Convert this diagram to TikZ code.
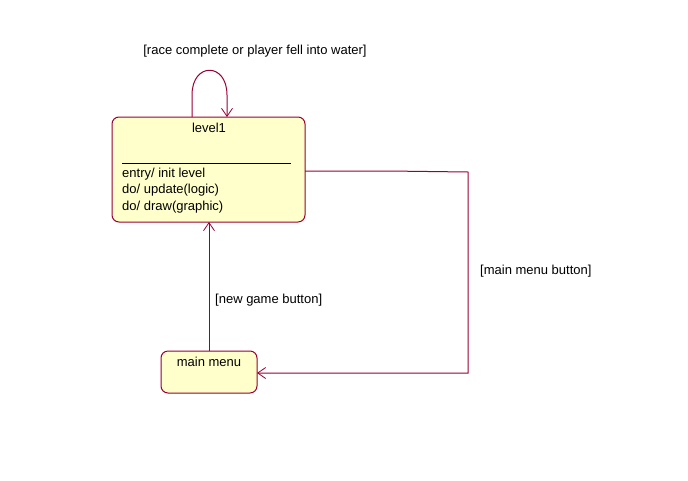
\documentclass[tikz,border=0pt]{standalone}
\usepackage{fontspec}
\setmainfont{Liberation Sans}
\usetikzlibrary{arrows.meta}
\definecolor{edgered}{HTML}{990033}
\definecolor{statefill}{HTML}{FFFFCC}
\begin{document}
\begin{tikzpicture}[x=1pt,y=-1pt,
  state/.style={draw=edgered, fill=statefill, rounded corners=7pt, line width=1pt},
  trans/.style={draw=edgered, line width=1pt, -{Straight Barb[length=8pt,width=11pt,line width=0.8pt]}},
  lbl/.style={font=\fontsize{13}{15}\selectfont, inner sep=0pt, text=black},
]
\useasboundingbox (0,0) rectangle (688,480);
% level1 state
\path[state] (112,117) rectangle (305,222);
\node[lbl] (l1title) at (209,128) {level1};
\draw[black, line width=1pt] (122,163) -- (291,163);
\node[lbl, anchor=west] (e1) at (122,174) {entry/ init level};
\node[lbl, anchor=west] (e2) at (122,190.5) {do/ update(logic)};
\node[lbl, anchor=west] (e3) at (122,207) {do/ draw(graphic)};
\coordinate (l1top1) at (192,117);
\coordinate (l1top2) at (227,117);
\coordinate (l1bot) at (209,222);
\coordinate (l1right) at (305,171);
% main menu state
\path[state] (161,351) rectangle (257,393);
\node[lbl] (mmtitle) at (209,362) {main menu};
\coordinate (mmtop) at (209,351);
\coordinate (mmright) at (257,373);
% corners of the right connector
\coordinate (c1) at (388,171);
\coordinate (c2) at (468,172);
\coordinate (c3) at (468,373);
% transitions
\draw[trans] (l1top1) -- (192,95) .. controls (192,62) and (227,62) .. (227,95) -- (l1top2);
\node[lbl] (racelbl) at (255,51) {[race complete or player fell into water]};
\draw[trans] (mmtop) -- (l1bot);
\node[lbl, anchor=west] (nglbl) at (215,300) {[new game button]};
\draw[trans] (l1right) -- (c1) -- (c2) -- (c3) -- (mmright);
\node[lbl, anchor=west] (mmlbl) at (480,271) {[main menu button]};
\end{tikzpicture}
\end{document}
